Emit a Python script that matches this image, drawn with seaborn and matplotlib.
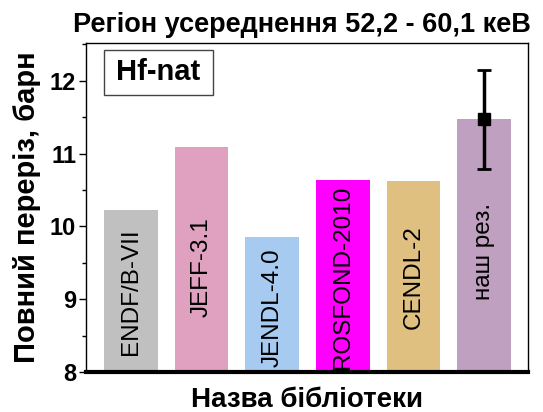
import matplotlib
matplotlib.use("Agg")
import matplotlib.pyplot as plt
from matplotlib.patches import Rectangle
import seaborn as sns
import pandas as pd

libraries = ["ENDF/B-VII", "JEFF-3.1", "JENDL-4.0", "ROSFOND-2010", "CENDL-2", "наш рез."]
cross_section = [10.23, 11.09, 9.85, 10.64, 10.62, 11.47]
our_error = 0.68
colors = ["#c0c0c0", "#e0a0c0", "#a6caf0", "#ff00ff", "#e0c080", "#c0a0c0"]
label_y = [9.10, 9.44, 8.89, 9.30, 9.30, 9.66]

title = "Регіон усереднення 52,2 - 60,1 кеВ"
xlabel = "Назва бібліотеки"
ylabel = "Повний переріз, барн"
sample = "Hf-nat"

sns.set_theme(style="white")
plt.rcParams['font.family'] = ['Liberation Sans', 'DejaVu Sans']
plt.rcParams['text.color'] = 'black'
plt.rcParams['axes.labelcolor'] = 'black'
plt.rcParams['xtick.color'] = 'black'
plt.rcParams['ytick.color'] = 'black'

df = pd.DataFrame({"lib": libraries, "val": cross_section})

fig = plt.figure(figsize=(5.43, 4.12), dpi=100)
ax = fig.add_axes([0.158, 0.097, 0.814, 0.799])

sns.barplot(data=df, x="lib", y="val", hue="lib", palette=colors, legend=False,
            width=0.757, ax=ax, saturation=1, edgecolor="none", linewidth=0)

ax.errorbar(len(libraries) - 1, cross_section[-1], yerr=our_error, fmt="s",
            color="black", markersize=8, elinewidth=2.5, capsize=5, capthick=2, zorder=5)

for i, (name, y) in enumerate(zip(libraries, label_y)):
    ax.text(i, y, name, rotation=90, ha="center", va="center", fontsize=17.5,
            color="black", zorder=6)

ax.set_ylim(8, 12.52)
ax.set_xlim(-0.64, 5.62)
ax.set_xticks([])
ax.set_yticks([8, 9, 10, 11, 12])
ax.set_yticks([8.5, 9.5, 10.5, 11.5, 12.5], minor=True)
ax.tick_params(axis="y", which="major", direction="out", length=5, width=1,
               labelsize=17, left=True, color="black", labelcolor="black", pad=2)
ax.tick_params(axis="y", which="minor", direction="out", length=3, width=1, left=True, color="black")
for lab in ax.get_yticklabels():
    lab.set_fontweight("bold")

for s in ["left", "top", "right"]:
    ax.spines[s].set_color("black")
    ax.spines[s].set_linewidth(1)
ax.spines["bottom"].set_color("black")
ax.spines["bottom"].set_linewidth(3)

ax.set_xlabel(xlabel, fontsize=20, fontweight="bold", labelpad=11, color="black")
ax.set_ylabel(ylabel, fontsize=21, fontweight="bold", labelpad=6, color="black")
ax.set_title(title, fontsize=19.5, fontweight="bold", pad=8, x=0.49, color="black")

ax.add_patch(Rectangle((0.041, 0.842), 0.247, 0.137, transform=ax.transAxes,
                       facecolor="white", edgecolor="#444444", linewidth=1, zorder=7))
ax.text(0.164, 0.911, sample, transform=ax.transAxes, fontsize=21, fontweight="bold",
        ha="center", va="center", zorder=8, color="black")

fig.savefig("out.png", dpi=100)
